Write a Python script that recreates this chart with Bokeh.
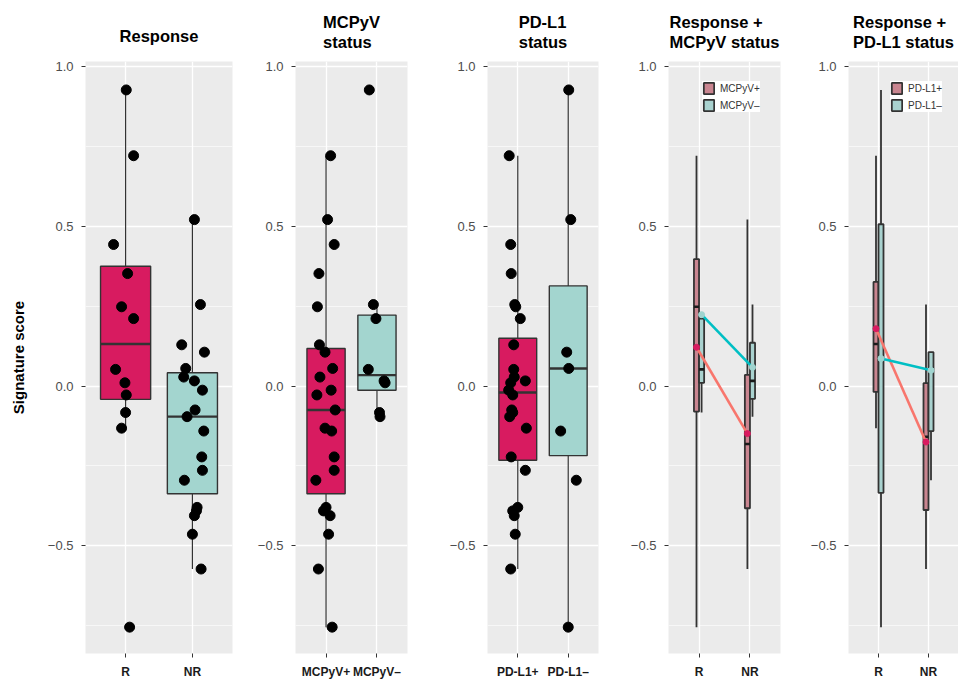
import numpy as np
from bokeh.plotting import figure
from bokeh.layouts import row
from bokeh.models import Range1d, FixedTicker, Title, Legend, LegendItem, ColumnDataSource
from bokeh.embed import file_html
from bokeh.resources import INLINE

# ---------------- data (one entry per sample) ----------------
scores = [0.927, 0.721, 0.521, 0.443, 0.352, 0.255, 0.248, 0.211, 0.129, 0.106,
          0.055, 0.052, 0.028, 0.016, 0.010, -0.013, -0.028, -0.075, -0.083, -0.096,
          -0.132, -0.141, -0.222, -0.264, -0.295, -0.380, -0.391, -0.406, -0.464, -0.573,
          -0.755]
response = ["R", "R", "NR", "R", "R", "NR", "R", "R", "NR", "NR",
            "NR", "R", "NR", "NR", "R", "NR", "R", "NR", "R", "NR",
            "R", "NR", "NR", "NR", "NR", "NR", "NR", "NR", "NR", "NR",
            "R"]
mcpyv = ["MCPyV–", "MCPyV+", "MCPyV+", "MCPyV+", "MCPyV+", "MCPyV–", "MCPyV+", "MCPyV–", "MCPyV+", "MCPyV+",
         "MCPyV+", "MCPyV–", "MCPyV+", "MCPyV–", "MCPyV–", "MCPyV+", "MCPyV+", "MCPyV+", "MCPyV–", "MCPyV–",
         "MCPyV+", "MCPyV+", "MCPyV+", "MCPyV+", "MCPyV+", "MCPyV+", "MCPyV+", "MCPyV+", "MCPyV+", "MCPyV+",
         "MCPyV+"]
pdl1 = ["PD-L1–", "PD-L1+", "PD-L1–", "PD-L1+", "PD-L1+", "PD-L1+", "PD-L1+", "PD-L1+", "PD-L1+", "PD-L1–",
        "PD-L1–", "PD-L1+", "PD-L1+", "PD-L1+", "PD-L1+", "PD-L1+", "PD-L1+", "PD-L1+", "PD-L1+", "PD-L1+",
        "PD-L1+", "PD-L1–", "PD-L1+", "PD-L1+", "PD-L1–", "PD-L1+", "PD-L1+", "PD-L1+", "PD-L1+", "PD-L1+",
        "PD-L1–"]

resp_levels = ["R", "NR"]
mcpyv_levels = ["MCPyV+", "MCPyV–"]
pdl1_levels = ["PD-L1+", "PD-L1–"]

panel_titles = ["Response", "MCPyV\nstatus", "PD-L1\nstatus",
                "Response +\nMCPyV status", "Response +\nPD-L1 status"]

# horizontal jitter of the dots (in category units)
jit_resp = [0.01, 0.12, 0.03, -0.18, 0.03, 0.12, -0.06, 0.12, -0.16, 0.18,
            -0.10, -0.15, -0.13, 0.03, -0.01, 0.15, 0.01, 0.04, 0.00, -0.08,
            -0.06, 0.17, 0.14, 0.15, -0.12, 0.07, 0.06, 0.03, 0.00, 0.13,
            0.06]
jit_mcpyv = [-0.15, 0.09, 0.03, 0.16, -0.14, -0.07, -0.17, -0.02, -0.13, -0.02,
             0.13, -0.17, -0.12, 0.14, 0.16, 0.10, -0.18, 0.18, 0.05, 0.06,
             -0.02, 0.11, 0.16, 0.16, -0.20, 0.00, -0.05, 0.08, 0.05, -0.15,
             0.12]
jit_pdl1 = [0.01, -0.17, 0.05, -0.14, -0.13, -0.06, -0.04, 0.05, -0.08, -0.03,
            0.01, -0.08, -0.07, 0.15, -0.14, -0.18, -0.10, -0.12, -0.10, -0.16,
            0.17, -0.15, -0.13, 0.15, 0.16, 0.00, -0.10, -0.07, -0.05, -0.14,
            0.00]

# ---------------- styling ----------------
FONT = "Liberation Sans"
BG = "#EBEBEB"
DARK = "#333333"
FILL_A = "#D81B60"
FILL_B = "#A3D5CF"
DODGE_FILL_A = "#C98590"
DODGE_FILL_B = "#A9D2CF"
LINE_A = "#F8766D"
LINE_B = "#00BFC4"
H = 688
TOP = 60
BOTTOM = 35


def box_stats(vals):
    v = np.sort(np.asarray(vals, dtype=float))
    q1, med, q3 = np.percentile(v, [25, 50, 75])
    iqr = q3 - q1
    lo = v[v >= q1 - 1.5 * iqr].min()
    hi = v[v <= q3 + 1.5 * iqr].max()
    return q1, med, q3, lo, hi


def make_fig(width, left, right, cats, title, ylabel=None):
    p = figure(width=width, height=H, title=None,
               x_range=Range1d(0.4, 2.6), y_range=Range1d(-0.8375, 1.016),
               output_backend="svg", toolbar_location=None,
               min_border_left=left, min_border_right=right,
               min_border_top=TOP, min_border_bottom=BOTTOM)
    multi = "\n" in title
    p.add_layout(Title(text=title, align="center", text_font=FONT, text_font_size="16.5px",
                       text_font_style="bold", text_color="black",
                       text_line_height=(1.1 if multi else 1.0),
                       standoff=(21 if multi else 33)), "above")
    p.background_fill_color = BG
    p.border_fill_color = "white"
    p.outline_line_color = None
    xt = FixedTicker(ticks=[1, 2])
    yt = FixedTicker(ticks=[-0.5, 0, 0.5, 1.0], minor_ticks=[-0.75, -0.25, 0.25, 0.75])
    p.xaxis.ticker = xt
    p.yaxis.ticker = yt
    p.xgrid.ticker = xt
    p.ygrid.ticker = yt
    p.xaxis.major_label_overrides = {1: cats[0], 2: cats[1]}
    p.yaxis.major_label_overrides = {-0.5: "−0.5", 0: "0.0", 0.5: "0.5", 1.0: "1.0"}
    for ax in (p.xaxis[0], p.yaxis[0]):
        ax.axis_line_color = None
        ax.major_tick_line_color = DARK
        ax.major_tick_out = 4
        ax.major_tick_in = 0
        ax.minor_tick_line_color = None
        ax.major_label_text_font = FONT
    p.yaxis.major_label_text_font_size = "13px"
    p.yaxis.major_label_text_color = "#4D4D4D"
    p.yaxis.major_label_standoff = 8
    p.xaxis.major_label_text_font_size = "12px"
    p.xaxis.major_label_text_color = "#1A1A1A"
    p.xaxis.major_label_text_font_style = "bold"
    p.xaxis.major_label_standoff = 7
    if ylabel:
        p.yaxis.axis_label = ylabel
        p.yaxis.axis_label_text_font = FONT
        p.yaxis.axis_label_text_font_size = "15px"
        p.yaxis.axis_label_text_font_style = "bold"
        p.yaxis.axis_label_text_color = "black"
        p.yaxis.axis_label_standoff = 18
    p.xgrid.grid_line_color = "white"
    p.xgrid.grid_line_width = 1.3
    p.ygrid.grid_line_color = "white"
    p.ygrid.grid_line_width = 1.3
    p.ygrid.minor_grid_line_color = "white"
    p.ygrid.minor_grid_line_width = 0.6
    return p


def simple_panel(p, groups, levels, jitter, fills):
    xs, q1s, meds, q3s, los, his, cols = [], [], [], [], [], [], []
    for i, lev in enumerate(levels):
        vals = [s for s, g in zip(scores, groups) if g == lev]
        q1, med, q3, lo, hi = box_stats(vals)
        xs.append(i + 1); q1s.append(q1); meds.append(med); q3s.append(q3)
        los.append(lo); his.append(hi); cols.append(fills[i])
    src = ColumnDataSource(dict(x=xs, q1=q1s, med=meds, q3=q3s, lo=los, hi=his, c=cols,
                                xl=[x - 0.375 for x in xs], xr=[x + 0.375 for x in xs]))
    p.segment(x0="x", y0="q3", x1="x", y1="hi", source=src, line_color=DARK, line_width=1.2)
    p.segment(x0="x", y0="q1", x1="x", y1="lo", source=src, line_color=DARK, line_width=1.2)
    p.vbar(x="x", width=0.75, top="q3", bottom="q1", source=src, fill_color="c",
           line_color=DARK, line_width=1.4)
    p.segment(x0="xl", y0="med", x1="xr", y1="med", source=src, line_color=DARK, line_width=2.4)
    px = [levels.index(g) + 1 + j for g, j in zip(groups, jitter)]
    p.scatter(px, scores, size=10, color="black")


def dodge_panel(p, sub, sub_levels, legend_loc):
    renderers = []
    fills = [DODGE_FILL_A, DODGE_FILL_B]
    lcols = [LINE_A, LINE_B]
    dcols = [FILL_A, "#9FD4CF"]
    offs = [-0.05, 0.05]
    means_all = []
    for k, sl in enumerate(sub_levels):
        xs, q1s, meds, q3s, los, his, means = [], [], [], [], [], [], []
        for i, rl in enumerate(resp_levels):
            vals = [s for s, r, g in zip(scores, response, sub) if r == rl and g == sl]
            q1, med, q3, lo, hi = box_stats(vals)
            xs.append(i + 1 + offs[k]); q1s.append(q1); meds.append(med); q3s.append(q3)
            los.append(lo); his.append(hi); means.append(float(np.mean(vals)))
        src = ColumnDataSource(dict(x=xs, q1=q1s, med=meds, q3=q3s, lo=los, hi=his, mean=means,
                                    xl=[x - 0.05 for x in xs], xr=[x + 0.05 for x in xs]))
        p.segment(x0="x", y0="q3", x1="x", y1="hi", source=src, line_color=DARK, line_width=1.8)
        p.segment(x0="x", y0="q1", x1="x", y1="lo", source=src, line_color=DARK, line_width=1.8)
        r = p.vbar(x="x", width=0.1, top="q3", bottom="q1", source=src, fill_color=fills[k],
                   line_color=DARK, line_width=1.8)
        p.segment(x0="xl", y0="med", x1="xr", y1="med", source=src, line_color="#1A1A1A", line_width=2.6)
        renderers.append(r)
        means_all.append(src)
    for k, src in enumerate(means_all):
        p.line(x="x", y="mean", source=src, line_color=lcols[k], line_width=2.6)
    for k, src in enumerate(means_all):
        p.scatter(x="x", y="mean", source=src, size=6, color=dcols[k])
    legend = Legend(items=[LegendItem(label=sub_levels[k], renderers=[renderers[k]]) for k in range(2)],
                    location=legend_loc, label_text_font=FONT, label_text_font_size="10px",
                    label_text_color="#333333", glyph_width=13, glyph_height=14, spacing=3,
                    padding=4, margin=0, label_standoff=5, label_height=14,
                    background_fill_color="white", background_fill_alpha=1.0,
                    border_line_color=None)
    p.add_layout(legend)


p1 = make_fig(250, 85, 18, resp_levels, panel_titles[0], ylabel="Signature score")
simple_panel(p1, response, resp_levels, jit_resp, [FILL_A, FILL_B])

p2 = make_fig(165, 45, 8, mcpyv_levels, panel_titles[1])
simple_panel(p2, mcpyv, mcpyv_levels, jit_mcpyv, [FILL_A, FILL_B])

p3 = make_fig(195, 72, 12, pdl1_levels, panel_titles[2])
simple_panel(p3, pdl1, pdl1_levels, jit_pdl1, [FILL_A, FILL_B])

p4 = make_fig(180, 58, 10, resp_levels, panel_titles[3])
dodge_panel(p4, mcpyv, mcpyv_levels, (34, 541))

p5 = make_fig(168, 58, 0, resp_levels, panel_titles[4])
dodge_panel(p5, pdl1, pdl1_levels, (42, 541))

layout = row(p1, p2, p3, p4, p5)
open("out.html", "w").write(file_html(layout, INLINE))
